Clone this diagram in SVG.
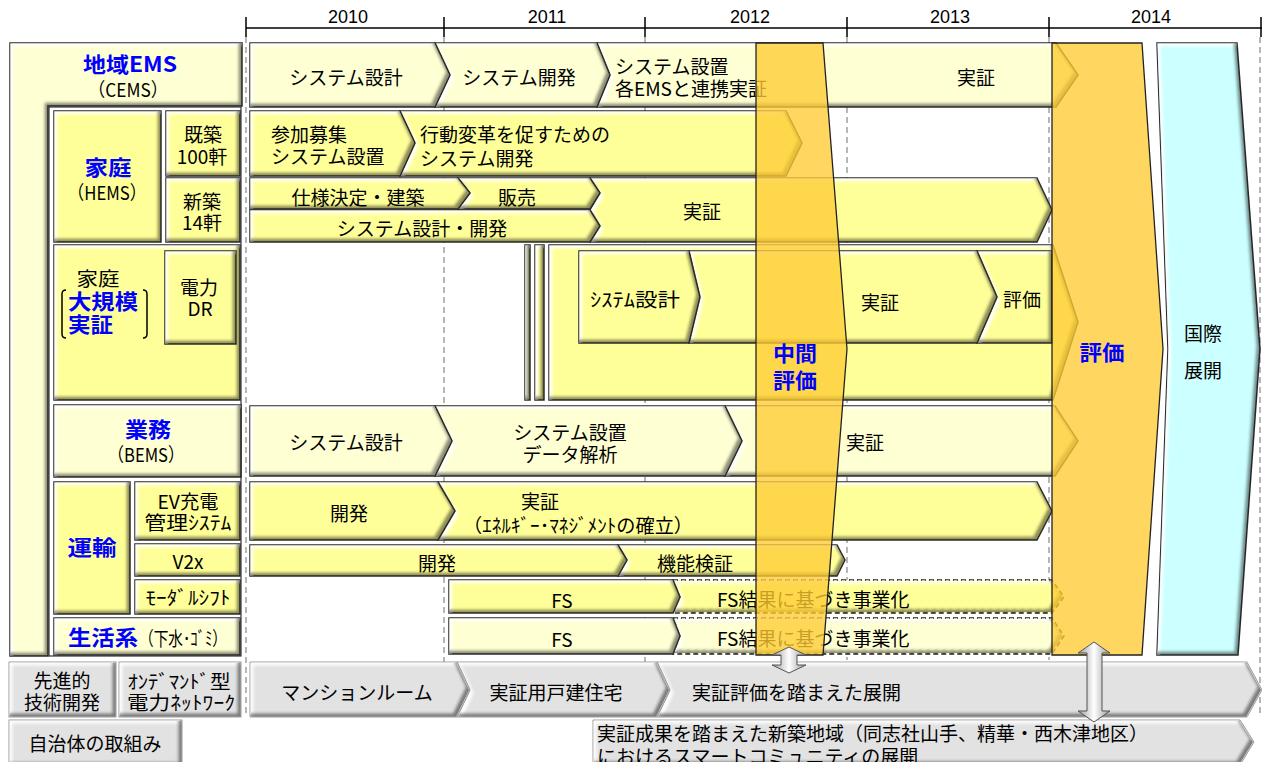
<svg xmlns="http://www.w3.org/2000/svg" width="1262" height="762" viewBox="0 0 1262 762">
<defs>
<filter id="bev" x="-10%" y="-20%" width="120%" height="140%" color-interpolation-filters="sRGB">
 <feMorphology in="SourceAlpha" operator="erode" radius="1.2" result="in"/>
 <feGaussianBlur in="in" stdDeviation="1.6" result="bl"/>
 <feOffset in="bl" dx="3" dy="3" result="o1"/>
 <feComposite in="in" in2="o1" operator="arithmetic" k2="1" k3="-1" result="hlA"/>
 <feFlood flood-color="#ffffff" flood-opacity="0.9"/>
 <feComposite in2="hlA" operator="in" result="hl"/>
 <feOffset in="bl" dx="-3" dy="-3" result="o2"/>
 <feComposite in="in" in2="o2" operator="arithmetic" k2="1" k3="-1" result="shA"/>
 <feFlood flood-color="#000000" flood-opacity="0.45"/>
 <feComposite in2="shA" operator="in" result="sh"/>
 <feMerge><feMergeNode in="SourceGraphic"/><feMergeNode in="hl"/><feMergeNode in="sh"/></feMerge>
</filter>
<linearGradient id="arr" x1="0" y1="0" x2="1" y2="0">
 <stop offset="0" stop-color="#9a9a9a"/>
 <stop offset="0.5" stop-color="#ffffff"/>
 <stop offset="1" stop-color="#9a9a9a"/>
</linearGradient>
<style>
.y{fill:#FFFF99;stroke:#2b2b2b;stroke-width:1.5;filter:url(#bev)}
.c{fill:#FFFFD4;stroke:#2b2b2b;stroke-width:1.5;filter:url(#bev)}
.g{fill:#E2E2E2;stroke:#9a9a9a;stroke-width:1;filter:url(#bev)}
.cy{fill:#CCFFFF;stroke:#2b2b2b;stroke-width:1.5;filter:url(#bev)}
.dy{fill:#FFFF99;stroke:#222;stroke-width:1.4;stroke-dasharray:5 3;filter:url(#bev)}
.dc{fill:#FFFFD4;stroke:#222;stroke-width:1.4;stroke-dasharray:5 3;filter:url(#bev)}
.or{fill:#FFCC33;fill-opacity:.78;stroke:#222;stroke-width:1.3}
.grid{fill:none;stroke:#a0a0a0;stroke-width:1.5;stroke-dasharray:6 4}
.br{fill:none;stroke:#000;stroke-width:1.5}
.ar{fill:url(#arr);stroke:#555;stroke-width:1}
text{font-family:"Noto Sans CJK JP","Noto Sans CJK SC",sans-serif;font-size:19px;fill:#000;dominant-baseline:central}
.m{text-anchor:middle}
.b{font-weight:bold;fill:#0000FF;font-size:21px}
.yr{font-family:"Liberation Sans",sans-serif;font-size:18px}
</style>
</defs>

<g id="timeline">
 <path class="grid" d="M246 37V717M444 37V717M645 37V717M847 37V660M1049 37V660M1260 37V717"/>
 <line x1="246" y1="28" x2="1262" y2="28" stroke="#000" stroke-width="1.5"/>
 <path d="M246 17V37M444 17V37M645 17V37M847 17V37M1049 17V37M1261 17V37" stroke="#000" stroke-width="1.5"/>
 <text class="m yr" x="348" y="17">2010</text>
 <text class="m yr" x="547" y="17">2011</text>
 <text class="m yr" x="750" y="17">2012</text>
 <text class="m yr" x="950" y="17">2013</text>
 <text class="m yr" x="1151" y="17">2014</text>
</g>

<g id="cems-label">
 <polygon class="c" points="10,43 242,43 242,106 48,106 48,656 10,656"/>
 <rect x="49" y="107" width="192" height="549" fill="none" stroke="#333" stroke-width="1.2"/>
 <text class="m b" x="130" y="63" textLength="94" lengthAdjust="spacingAndGlyphs">地域EMS</text>
 <text class="m" x="128" y="88" textLength="80" lengthAdjust="spacingAndGlyphs">（CEMS）</text>
</g>
<g id="hems-label">
 <rect class="y" x="54" y="111" width="107" height="131"/>
 <text class="m b" x="108" y="166" textLength="47" lengthAdjust="spacingAndGlyphs">家庭</text>
 <text class="m" x="107" y="191" textLength="79" lengthAdjust="spacingAndGlyphs">（HEMS）</text>
</g>
<g id="kichiku-label">
 <rect class="y" x="166" y="111" width="74" height="65"/>
 <text class="m" x="203" y="133">既築</text>
 <text class="m" x="202" y="155">100軒</text>
</g>
<g id="shinchiku-label">
 <rect class="y" x="166" y="178" width="74" height="64"/>
 <text class="m" x="202" y="200">新築</text>
 <text class="m" x="202" y="221">14軒</text>
</g>
<g id="large-label">
 <rect class="y" x="54" y="245" width="186" height="155"/>
 <text class="m" x="98" y="277" textLength="43" lengthAdjust="spacingAndGlyphs">家庭</text>
 <text class="b" x="68" y="300" textLength="70" lengthAdjust="spacingAndGlyphs">大規模</text>
 <text class="b" x="68" y="323" textLength="45" lengthAdjust="spacingAndGlyphs">実証</text>
 <path class="br" d="M66 290Q62 290 62 294V334Q62 338 66 338M143 290Q147 290 147 294V334Q147 338 143 338"/>
</g>
<g id="dr-label">
 <rect class="y" x="165" y="251" width="71" height="93"/>
 <text class="m" x="199" y="286">電力</text>
 <text class="m" x="200" y="307">DR</text>
</g>
<g id="bems-label">
 <rect class="c" x="54" y="405" width="187" height="72"/>
 <text class="m b" x="148" y="428" textLength="46" lengthAdjust="spacingAndGlyphs">業務</text>
 <text class="m" x="146" y="453" textLength="77" lengthAdjust="spacingAndGlyphs">（BEMS）</text>
</g>
<g id="transport-label">
 <rect class="y" x="54" y="482" width="76" height="132"/>
 <text class="m b" x="92" y="546" textLength="49" lengthAdjust="spacingAndGlyphs">運輸</text>
</g>
<g id="ev-label">
 <rect class="y" x="135" y="482" width="105" height="58"/>
 <text class="m" x="188" y="500" textLength="61" lengthAdjust="spacingAndGlyphs">EV充電</text>
 <text class="m" x="188" y="521" textLength="87" lengthAdjust="spacingAndGlyphs">管理ｼｽﾃﾑ</text>
</g>
<g id="v2x-label">
 <rect class="y" x="135" y="544" width="105" height="32"/>
 <text class="m" x="188" y="560">V2x</text>
</g>
<g id="modal-label">
 <rect class="y" x="135" y="580" width="105" height="34"/>
 <text class="m" x="188" y="596" textLength="85" lengthAdjust="spacingAndGlyphs">ﾓｰﾀﾞﾙｼﾌﾄ</text>
</g>
<g id="life-label">
 <rect class="c" x="54" y="618" width="186" height="37"/>
 <text class="b" x="68" y="636" textLength="70" lengthAdjust="spacingAndGlyphs">生活系</text>
 <text x="139" y="637" textLength="88" lengthAdjust="spacingAndGlyphs">（下水･ｺﾞﾐ）</text>
</g>
<g id="adv-label">
 <rect class="g" x="9" y="662" width="107" height="55"/>
 <text class="m" x="62" y="679">先進的</text>
 <text class="m" x="62" y="701">技術開発</text>
</g>
<g id="ondemand-label">
 <rect class="g" x="119" y="662" width="122" height="55"/>
 <text class="m" x="179" y="680" textLength="103" lengthAdjust="spacingAndGlyphs">ｵﾝﾃﾞﾏﾝﾄﾞ型</text>
 <text class="m" x="181" y="701" textLength="108" lengthAdjust="spacingAndGlyphs">電力ﾈｯﾄﾜｰｸ</text>
</g>
<g id="local-label">
 <rect class="g" x="9" y="720" width="173" height="46"/>
 <text class="m" x="95" y="742">自治体の取組み</text>
</g>

<g id="row-cems">
 <polygon class="c" points="597,43 1056,43 1078,75 1056,107 597,107 610,75"/>
 <polygon class="c" points="435,43 597,43 610,75 597,107 435,107 450,75"/>
 <polygon class="c" points="250,43 435,43 450,75 435,107 250,107"/>
 <text class="m" x="346" y="76">システム設計</text>
 <text class="m" x="519" y="76">システム開発</text>
 <text x="615" y="65">システム設置</text>
 <text x="615" y="87">各EMSと連携実証</text>
 <text class="m" x="976" y="76">実証</text>
</g>
<g id="row-kichiku">
 <polygon class="y" points="400,111 786,111 802,143 786,176 400,176 415,143"/>
 <polygon class="y" points="250,111 400,111 415,143 400,176 250,176"/>
 <text x="271" y="133">参加募集</text>
 <text x="271" y="155">システム設置</text>
 <text x="420" y="133">行動変革を促すための</text>
 <text x="420" y="157">システム開発</text>
</g>
<g id="row-shinchiku">
 <polygon class="y" points="590,178 1037,178 1052,210 1037,242 590,242 600,226 590,210 600,193"/>
 <polygon class="y" points="458,178 590,178 600,193 590,209 458,209 470,193"/>
 <polygon class="y" points="250,178 458,178 470,193 458,209 250,209"/>
 <polygon class="y" points="250,210 590,210 600,226 590,242 250,242"/>
 <text class="m" x="358" y="196">仕様決定・建築</text>
 <text class="m" x="517" y="196">販売</text>
 <text class="m" x="422" y="227">システム設計・開発</text>
 <text class="m" x="702" y="210">実証</text>
</g>
<g id="row-large">
 <rect class="y" x="525" y="245" width="5" height="155"/>
 <rect class="y" x="535" y="245" width="9" height="155"/>
 <polygon class="y" points="549,245 1053,245 1078,322 1053,400 549,400"/>
 <polygon class="y" points="977,251 1052,251 1052,343 977,343 997,297"/>
 <polygon class="y" points="689,251 977,251 997,297 977,343 689,343 700,297"/>
 <polygon class="y" points="579,251 689,251 700,297 689,343 579,343"/>
 <text class="m" x="635" y="298" textLength="90" lengthAdjust="spacingAndGlyphs">ｼｽﾃﾑ設計</text>
 <text class="m" x="880" y="301">実証</text>
 <text class="m" x="1022" y="298">評価</text>
</g>
<g id="row-bems">
 <polygon class="c" points="725,406 1055,406 1078,441 1055,476 725,476 742,441"/>
 <polygon class="c" points="435,406 725,406 742,441 725,476 435,476 452,441"/>
 <polygon class="c" points="250,406 435,406 452,441 435,476 250,476"/>
 <text class="m" x="346" y="441">システム設計</text>
 <text class="m" x="570" y="431">システム設置</text>
 <text class="m" x="570" y="453">データ解析</text>
 <text class="m" x="865" y="441">実証</text>
</g>
<g id="row-ev">
 <polygon class="y" points="438,482 1037,482 1052,511 1037,540 438,540 455,511"/>
 <polygon class="y" points="250,482 438,482 455,511 438,540 250,540"/>
 <text class="m" x="349" y="512">開発</text>
 <text class="m" x="540" y="500">実証</text>
 <text class="m" x="578" y="524" textLength="230" lengthAdjust="spacingAndGlyphs">（ｴﾈﾙｷﾞｰ･ﾏﾈｼﾞﾒﾝﾄの確立）</text>
</g>
<g id="row-v2x">
 <polygon class="y" points="618,545 837,545 845,560 837,576 618,576 627,560"/>
 <polygon class="y" points="250,545 618,545 627,560 618,576 250,576"/>
 <text class="m" x="437" y="562">開発</text>
 <text class="m" x="695" y="562">機能検証</text>
</g>
<g id="row-modal">
 <polygon class="dy" points="673,580 1052,580 1064,597 1052,613 673,613 680,597"/>
 <polygon class="y" points="449,580 673,580 680,597 673,613 449,613"/>
 <text class="m" x="562" y="599">FS</text>
 <text x="717" y="598">FS結果に基づき事業化</text>
</g>
<g id="row-life">
 <polygon class="dc" points="673,618 1052,618 1064,636 1052,654 673,654 680,636"/>
 <polygon class="c" points="449,618 673,618 680,636 673,654 449,654"/>
 <text class="m" x="562" y="638">FS</text>
 <text x="717" y="637">FS結果に基づき事業化</text>
</g>
<g id="row-ondemand">
 <polygon class="g" points="657,662 1247,662 1262,690 1247,717 657,717 670,690"/>
 <polygon class="g" points="457,662 657,662 670,690 657,717 457,717 470,690"/>
 <polygon class="g" points="250,662 457,662 470,690 457,717 250,717"/>
 <text class="m" x="357" y="691">マンションルーム</text>
 <text class="m" x="556" y="691">実証用戸建住宅</text>
 <text x="692" y="691">実証評価を踏まえた展開</text>
</g>
<g id="row-local">
 <polygon class="g" points="593,720 1240,720 1254,742 1240,765 593,765"/>
 <text x="597" y="732">実証成果を踏まえた新築地域（同志社山手、精華・西木津地区）</text>
 <text x="597" y="755">におけるスマートコミュニティの展開</text>
</g>

<g id="mid-eval">
 <polygon class="or" points="756,43 823,43 847,349 823,655 756,655"/>
 <text class="m b" x="795" y="352" textLength="44" lengthAdjust="spacingAndGlyphs">中間</text>
 <text class="m b" x="795" y="379" textLength="44" lengthAdjust="spacingAndGlyphs">評価</text>
</g>
<g id="final-eval">
 <polygon class="or" points="1052,43 1142,43 1163,349 1142,655 1052,655"/>
 <text class="m b" x="1102" y="351" textLength="45" lengthAdjust="spacingAndGlyphs">評価</text>
</g>
<g id="intl">
 <polygon class="cy" points="1157,43 1237,43 1260,349 1238,655 1157,655 1168,349"/>
 <text class="m" x="1203" y="332">国際</text>
 <text class="m" x="1203" y="369">展開</text>
</g>

<g id="connectors">
 <polygon class="ar" points="789,647 806,655 797,655 797,665 806,665 789,673 772,665 781,665 781,655 772,655"/>
 <polygon class="ar" points="1094,642 1110,653 1102,653 1102,711 1110,711 1094,722 1078,711 1087,711 1087,653 1078,653"/>
</g>
</svg>
